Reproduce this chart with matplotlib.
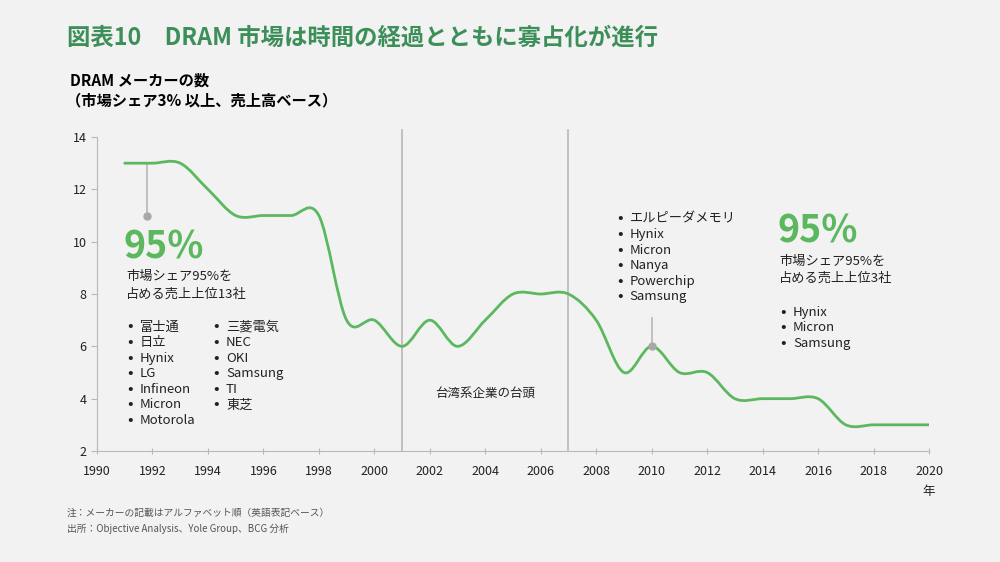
import matplotlib
matplotlib.use("Agg")
import matplotlib.pyplot as plt
from matplotlib.path import Path
from matplotlib.patches import PathPatch
import numpy as np

plt.rcParams['font.family'] = ['Noto Sans CJK JP', 'DejaVu Sans']

years = list(range(1991, 2021))
makers = [13, 13, 13, 12, 11, 11, 11, 11, 7, 7, 6, 7, 6, 7, 8,
          8, 8, 7, 5, 6, 5, 5, 4, 4, 4, 4, 3, 3, 3, 3]

top13_col1 = ["富士通", "日立", "Hynix", "LG", "Infineon", "Micron", "Motorola"]
top13_col2 = ["三菱電気", "NEC", "OKI", "Samsung", "TI", "東芝"]
mid_list = ["エルピーダメモリ", "Hynix", "Micron", "Nanya", "Powerchip", "Samsung"]
top3 = ["Hynix", "Micron", "Samsung"]

x_ticks = list(range(1990, 2021, 2))
y_ticks = [2, 4, 6, 8, 10, 12, 14]
events = [2001, 2007]

BG = "#f2f2f2"
GREEN = "#5cb85f"
DARK_GREEN = "#3d8f5a"
GRAY = "#b8b8b8"
TXT = "#222222"


def smooth_path(xs, ys):
    # Catmull-Rom segments turned into cubic Bezier pieces (Excel-like smoothed line)
    p = np.column_stack([xs, ys]).astype(float)
    ext = np.vstack([p[0], p, p[-1]])
    verts = [p[0]]
    codes = [Path.MOVETO]
    for i in range(1, len(ext) - 2):
        c1 = ext[i] + (ext[i + 1] - ext[i - 1]) / 6
        c2 = ext[i + 1] - (ext[i + 2] - ext[i]) / 6
        verts += [c1, c2, ext[i + 1]]
        codes += [Path.CURVE4] * 3
    return Path(verts, codes)


def bullets(ax, x, y0, names, step):
    for i, name in enumerate(names):
        y = y0 - i * step
        ax.text(x, y, "•", fontsize=12, va='center', color=TXT)
        ax.text(x + 0.45, y, name, fontsize=9.5, va='center', color=TXT)


fig = plt.figure(figsize=(10, 5.62), dpi=100, facecolor=BG)
ax = fig.add_axes([0.097, 0.1975, 0.832, 0.5587], facecolor=BG)

ax.set_xlim(1990, 2020)
ax.set_ylim(2, 14)
ax.set_xticks(x_ticks)
ax.set_yticks(y_ticks)
ax.tick_params(axis='both', length=4, color=GRAY, labelsize=9, labelcolor=TXT)
ax.tick_params(axis='x', direction='inout', pad=8)
for s in ['top', 'right']:
    ax.spines[s].set_visible(False)
for s in ['left', 'bottom']:
    ax.spines[s].set_color(GRAY)

for ev in events:
    ax.plot([ev, ev], [2, 14.25], color=GRAY, lw=1.2, clip_on=False, zorder=1)

ax.add_patch(PathPatch(smooth_path(years, makers), fill=False, edgecolor=GREEN,
                       lw=2, zorder=3, capstyle='round'))

# callout pins
ax.plot([1991.8, 1991.8], [13, 11], color=GRAY, lw=1.2, zorder=2)
ax.plot(1991.8, 11, 'o', color="#a8a8a8", ms=5, zorder=4)
ax.plot([2010, 2010], [7.1, 6], color=GRAY, lw=1.2, zorder=2)
ax.plot(2010, 6, 'o', color="#a8a8a8", ms=5, zorder=4)

row = 15.6 / 26.17

# left block
ax.text(1990.95, 9.78, "95%", color=GREEN, fontsize=27, fontweight='bold', va='center')
ax.text(1991.05, 8.32, "市場シェア95%を\n占める売上上位13社", fontsize=9.5,
        va='center', linespacing=1.45, color=TXT)
bullets(ax, 1991.1, 6.74, top13_col1, row)
bullets(ax, 1994.2, 6.74, top13_col2, row)

ax.text(2004, 4.2, "台湾系企業の台頭", fontsize=9, ha='center', va='center', color=TXT)

# middle list
bullets(ax, 2008.75, 10.87, mid_list, row)

# right block
ax.text(2014.55, 10.4, "95%", color=GREEN, fontsize=27, fontweight='bold', va='center')
ax.text(2014.6, 8.92, "市場シェア95%を\n占める売上上位3社", fontsize=9.5,
        va='center', linespacing=1.45, color=TXT)
bullets(ax, 2014.65, 7.31, top3, row)

# headings and notes
fig.text(0.067, 0.932, "図表10　DRAM 市場は時間の経過とともに寡占化が進行",
         fontsize=16.8, fontweight='bold', color=DARK_GREEN, va='center')
fig.text(0.07, 0.857, "DRAM メーカーの数", fontsize=11, fontweight='bold', va='center')
fig.text(0.066, 0.821, "（市場シェア3% 以上、売上高ベース）", fontsize=11, fontweight='bold', va='center')
fig.text(0.929, 0.126, "年", fontsize=9, ha='center', va='center', color=TXT)
fig.text(0.067, 0.087, "注：メーカーの記載はアルファベット順（英語表記ベース）",
         fontsize=7, color="#555555", va='center')
fig.text(0.067, 0.059, "出所：Objective Analysis、Yole Group、BCG 分析",
         fontsize=7, color="#555555", va='center')

fig.savefig("out.png", dpi=100, facecolor=BG)
